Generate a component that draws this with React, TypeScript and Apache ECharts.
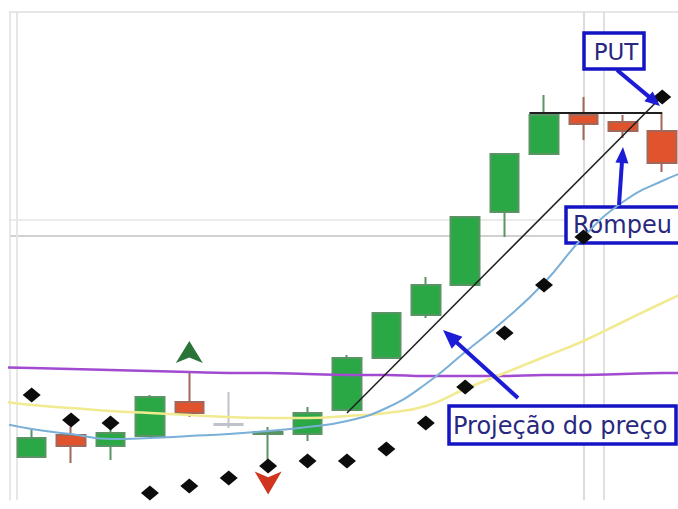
import React, { useEffect, useRef } from "react";
import * as echarts from "echarts";

// Candles (index along the x axis, price units)
const candleX = [0, 1, 2, 3, 4, 5, 6, 7, 8, 9, 10, 11, 12, 13, 14, 15, 16];
const opens = [4.3, 6.5, 5.4, 6.4, 9.8, 7.6, 6.6, 6.6, 9.0, 14.2, 18.5, 21.5, 28.8, 34.6, 38.5, 37.8, 36.9];
const closes = [6.2, 5.4, 6.7, 10.3, 8.7, 7.5, 6.8, 8.7, 14.2, 18.7, 21.5, 28.3, 34.6, 38.5, 37.6, 36.9, 33.7];
const lows = [4.2, 3.7, 4.0, 6.4, 8.3, 7.2, 3.0, 5.9, 9.0, 14.2, 18.2, 21.5, 26.3, 34.6, 36.0, 36.2, 32.8];
const highs = [7.2, 7.3, 7.3, 10.5, 12.7, 10.8, 7.3, 9.3, 14.5, 18.7, 22.3, 28.3, 34.6, 40.5, 40.3, 38.5, 38.7];
const neutralCandle = 5;

// Moving averages (one point per index, extending one step past both edges)
const maX = [-1, 0, 1, 2, 3, 4, 5, 6, 7, 8, 9, 10, 11, 12, 13, 14, 15, 16, 17];
const maFast = [7.9, 7.1, 6.6, 6.1, 6.2, 6.4, 6.6, 6.9, 7.3, 7.9, 9.2, 11.6, 14.8, 18.0, 21.7, 26.3, 29.8, 31.9, 33.4];
const maMid = [10.0, 9.5, 9.2, 8.9, 8.7, 8.5, 8.3, 8.2, 8.2, 8.4, 8.7, 9.4, 11.1, 12.7, 14.3, 15.9, 17.8, 19.7, 21.5];
const maSlow = [13.3, 13.2, 13.1, 13.0, 12.9, 12.8, 12.7, 12.7, 12.6, 12.5, 12.5, 12.4, 12.4, 12.4, 12.5, 12.5, 12.6, 12.7, 12.7];

// Stop markers (diamonds)
const stopValues = [10.5, 8.0, 7.7, 0.7, 1.4, 2.2, 3.4, 3.9, 3.9, 5.1, 7.7, 11.3, 16.7, 21.5, 26.3, null, 40.3];

// Signals
const buySignalX = [4];
const buySignalY = [14.8];
const sellSignalX = [6];
const sellSignalY = [1.7];

// Drawn lines
const projectionX = [8, 15.9];
const projectionY = [8.7, 40.0];
const resistanceX = [12.63, 16];
const resistanceY = [38.7, 38.7];

// Reference lines
const hGridValues = [28.0, 26.4];
const vGridValues = [-0.37, 14, 14.52];

const BLUE = "#1c1cd6";
const BOX = "#1414c4";
const TXT = "#28287e";

function arrow(x1: number, y1: number, x2: number, y2: number, headLen: number, headW: number, lw: number) {
  const dx = x2 - x1, dy = y2 - y1;
  const len = Math.hypot(dx, dy);
  const ux = dx / len, uy = dy / len;
  const bx = x2 - ux * headLen, by = y2 - uy * headLen;
  const px = -uy, py = ux;
  return [
    { type: "line", z: 60, shape: { x1, y1, x2: bx + ux * 2, y2: by + uy * 2 }, style: { stroke: BLUE, lineWidth: lw } },
    {
      type: "polygon",
      z: 60,
      shape: { points: [[x2, y2], [bx + (px * headW) / 2, by + (py * headW) / 2], [bx - (px * headW) / 2, by - (py * headW) / 2]] },
      style: { fill: BLUE },
    },
  ];
}

export default function App() {
  const ref = useRef<HTMLDivElement>(null);
  useEffect(() => {
    if (!ref.current) return;
    const chart = echarts.init(ref.current, null, { renderer: "svg" });
    const candleData = candleX.map((x, i) => {
      const item: any = { value: [x, opens[i], closes[i], lows[i], highs[i]] };
      if (i === neutralCandle) item.itemStyle = { color: "#c9ccd4", color0: "#c9ccd4", borderColor: "#bfc2ca", borderColor0: "#bfc2ca" };
      return item;
    });
    const font = "DejaVu Sans";
    const option: any = {
      animation: false,
      backgroundColor: "#ffffff",
      grid: { left: 10, right: 0, top: 12, bottom: 9 },
      xAxis: {
        type: "value",
        min: -0.55,
        max: 16.4,
        position: "top",
        axisLine: { show: true, onZero: false, lineStyle: { color: "#dedede", width: 1.5 } },
        axisTick: { show: false },
        axisLabel: { show: false },
        splitLine: { show: false },
      },
      yAxis: {
        type: "value",
        min: 0,
        max: 48.8,
        axisLine: { show: true, onZero: false, lineStyle: { color: "#e0e0e0", width: 1.5 } },
        axisTick: { show: false },
        axisLabel: { show: false },
        splitLine: { show: false },
      },
      series: [
        {
          type: "line",
          z: 0,
          data: [],
          silent: true,
          markLine: {
            z: 0,
            silent: true,
            symbol: "none",
            label: { show: false },
            data: [
              { yAxis: hGridValues[0], lineStyle: { color: "#ebebeb", width: 2, type: "solid" } },
              { yAxis: hGridValues[1], lineStyle: { color: "#c2c2c2", width: 1.5, type: "solid" } },
              { xAxis: vGridValues[0], lineStyle: { color: "#e6e6e6", width: 2, type: "solid" } },
              { xAxis: vGridValues[1], lineStyle: { color: "#cfcfcf", width: 1.5, type: "solid" } },
              { xAxis: vGridValues[2], lineStyle: { color: "#d6d6d6", width: 1.5, type: "solid" } },
            ],
          },
        },
        {
          type: "candlestick",
          z: 2,
          barWidth: 29,
          encode: { x: 0, y: [1, 2, 3, 4] },
          itemStyle: {
            color: "#2aa845",
            color0: "#e0532c",
            borderColor: "#5a9464",
            borderColor0: "#a0685a",
            borderWidth: 2,
          },
          data: candleData,
        },
        {
          type: "line",
          z: 3,
          smooth: true,
          showSymbol: false,
          data: maX.map((x, i) => [x, maSlow[i]]),
          lineStyle: { color: "#a24ad0", width: 2.5 },
        },
        {
          type: "line",
          z: 3,
          smooth: true,
          showSymbol: false,
          data: maX.map((x, i) => [x, maMid[i]]),
          lineStyle: { color: "#f1ea90", width: 2.5 },
        },
        {
          type: "line",
          z: 3,
          smooth: true,
          showSymbol: false,
          data: maX.map((x, i) => [x, maFast[i]]),
          lineStyle: { color: "#7aafd8", width: 2 },
        },
        {
          type: "line",
          z: 4,
          showSymbol: false,
          data: projectionX.map((x, i) => [x, projectionY[i]]),
          lineStyle: { color: "#1e1e1e", width: 1.5 },
        },
        {
          type: "line",
          z: 4,
          showSymbol: false,
          data: resistanceX.map((x, i) => [x, resistanceY[i]]),
          lineStyle: { color: "#1e1e1e", width: 2 },
        },
        {
          type: "scatter",
          z: 5,
          symbol: "diamond",
          symbolSize: [18, 15],
          itemStyle: { color: "#0c0c0c", opacity: 1 },
          data: candleX.map((x, i) => [x, stopValues[i]]).filter((d) => d[1] != null),
        },
        {
          type: "scatter",
          z: 5,
          symbol: "path://M10,0 L20,20 L10,15 L0,20 Z",
          symbolSize: [27, 22],
          itemStyle: { color: "#2a7438", opacity: 1 },
          data: buySignalX.map((x, i) => [x, buySignalY[i]]),
        },
        {
          type: "scatter",
          z: 5,
          symbol: "path://M0,0 L10,5 L20,0 L10,20 Z",
          symbolSize: [27, 23],
          itemStyle: { color: "#d0361f", opacity: 1 },
          data: sellSignalX.map((x, i) => [x, sellSignalY[i]]),
        },
      ],
      graphic: [
        { type: "rect", z: 1, shape: { x: 566, y: 207, width: 130, height: 36 }, style: { fill: "#ffffff", stroke: BOX, lineWidth: 3.5 } },
        { type: "text", z: 1, x: 573, y: 225, style: { text: "Rompeu", font: `24px "${font}"`, fill: TXT, verticalAlign: "middle" } },
        { type: "rect", z: 70, shape: { x: 584, y: 33, width: 60, height: 36 }, style: { fill: "#ffffff", stroke: BOX, lineWidth: 3.5 } },
        { type: "text", z: 71, x: 616, y: 52, style: { text: "PUT", font: `23px "${font}"`, fill: TXT, align: "center", verticalAlign: "middle" } },
        { type: "rect", z: 70, shape: { x: 449, y: 406, width: 227, height: 38 }, style: { fill: "#ffffff", stroke: BOX, lineWidth: 3.5 } },
        { type: "text", z: 71, x: 453, y: 426, style: { text: "Projeção do preço", font: `24px "${font}"`, fill: TXT, verticalAlign: "middle" } },
        ...arrow(617, 70, 660, 106, 15, 13, 4),
        ...arrow(619, 205, 623, 147, 16, 13, 4),
        ...arrow(518, 398, 443, 330, 19, 16, 4),
      ],
    };
    chart.setOption(option);
    return () => chart.dispose();
  }, []);
  return (
    <div
      ref={ref}
      style={{ position: "fixed", left: 0, top: 0, width: 678, height: 509, background: "#fff" }}
    />
  );
}
